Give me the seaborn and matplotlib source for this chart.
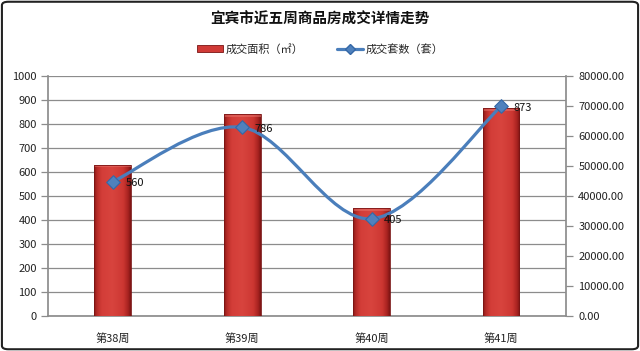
import numpy as np
import pandas as pd
import matplotlib
matplotlib.use('Agg')
import matplotlib.pyplot as plt
import seaborn as sns
from matplotlib.path import Path
from matplotlib.patches import PathPatch, Rectangle, FancyBboxPatch
from matplotlib.lines import Line2D
from matplotlib.colors import LinearSegmentedColormap

# ---- data ----
title = '宜宾市近五周商品房成交详情走势'
weeks = ['第38周', '第39周', '第40周', '第41周']
area = [50300, 67200, 35900, 69200]        # 成交面积（㎡）, right axis
units = [560, 786, 405, 873]               # 成交套数（套）, left axis
left_ticks = list(range(0, 1001, 100))
right_ticks = list(range(0, 80001, 10000))
area_label = '成交面积（㎡）'
units_label = '成交套数（套）'

sns.set_theme(style='white')
plt.rcParams['font.family'] = ['Noto Sans CJK SC', 'DejaVu Sans']

df = pd.DataFrame({'week': weeks, 'area': area, 'units': units})

fig = plt.figure(figsize=(6.4, 3.51), dpi=100)
ax = fig.add_axes([0.075, 0.0997, 0.809, 0.6838])
ax2 = ax.twinx()
ax3 = ax.twinx()

grid_c = '#8c8c8c'
# left axis: grid + ticks
ax.set_ylim(0, 1000)
ax.set_yticks(left_ticks)
ax.set_yticklabels([str(t) for t in left_ticks], fontsize=8, color='#222222')
ax.yaxis.grid(True, color=grid_c, linewidth=0.9)
ax.tick_params(axis='y', which='both', left=True, length=5, width=0.9, color=grid_c, pad=3)
ax.set_xlim(-0.5, 3.5)

# bars on right axis
sns.barplot(data=df, x='week', y='area', ax=ax2, width=0.285, color='#d03a36',
            edgecolor='#7a1414', linewidth=0.6, zorder=2)
ax2.set_ylim(0, 80000)
ax2.set_xlim(-0.5, 3.5)
cmap = LinearSegmentedColormap.from_list('barred', [
    (0.0, '#8a1a18'), (0.07, '#b42a26'), (0.2, '#d33d38'), (0.5, '#d8443e'),
    (0.8, '#cd3732'), (0.93, '#a82320'), (1.0, '#7e1514')])
grad = np.linspace(0, 1, 64).reshape(1, -1)
for p in list(ax2.patches):
    x0, y0 = p.get_x(), p.get_y()
    w, h = p.get_width(), p.get_height()
    im = ax2.imshow(grad, cmap=cmap, extent=[x0, x0 + w, y0, y0 + h],
                    aspect='auto', zorder=2.5, interpolation='bicubic')
    im.set_clip_path(p)
    cap = Rectangle((x0, y0 + h - 800), w, 800, facecolor='#e8766e', edgecolor='none',
                    alpha=0.5, zorder=2.6)
    ax2.add_patch(cap)
    p.set_facecolor('none')
    p.set_zorder(2.7)
ax2.set_ylim(0, 80000)
ax2.set_xlim(-0.5, 3.5)
ax2.set_yticks(right_ticks)
ax2.set_yticklabels(['%.2f' % t for t in right_ticks], fontsize=8, color='#222222')
ax2.tick_params(axis='y', which='both', right=True, length=5, width=0.9, color=grid_c, pad=4)
ax2.set_ylabel('')
ax2.set_xlabel('')

# line on left scale (top layer)
ax3.set_ylim(0, 1000)
ax3.set_xlim(-0.5, 3.5)
xs = np.arange(len(weeks), dtype=float)
ys = np.array(units, dtype=float)
P = np.column_stack([xs, ys])
Pe = np.vstack([P[0], P, P[-1]])
verts = [tuple(P[0])]
codes = [Path.MOVETO]
for i in range(len(P) - 1):
    p0, p1, p2, p3 = Pe[i], Pe[i + 1], Pe[i + 2], Pe[i + 3]
    c1 = p1 + (p2 - p0) / 6.0
    c2 = p2 - (p3 - p1) / 6.0
    verts += [tuple(c1), tuple(c2), tuple(p2)]
    codes += [Path.CURVE4] * 3
ax3.add_patch(PathPatch(Path(verts, codes), facecolor='none', edgecolor='#4a7ebb',
                        linewidth=2.3, capstyle='round', zorder=3))
sns.scatterplot(x=xs, y=ys, ax=ax3, marker='D', s=48, color='#4f81bd',
                edgecolor='#3467a6', linewidth=0.8, zorder=4, legend=False)
for x, v in zip(xs, units):
    ax3.annotate(str(v), (x, v), xytext=(9, -1), textcoords='offset points',
                 ha='left', va='center', fontsize=8, color='#111111', zorder=5)
ax3.set_yticks([])
ax3.set_ylabel('')

# x axis
ax.set_xticks(range(len(weeks)))
ax.set_xticklabels(weeks, fontsize=8, color='#222222')
ax.tick_params(axis='x', bottom=False, pad=6)
ax2.tick_params(axis='x', bottom=False, labelbottom=False)
ax3.tick_params(axis='x', bottom=False, labelbottom=False)
ax.set_xlabel('')
ax.set_ylabel('')

for a in (ax, ax2, ax3):
    for s in a.spines.values():
        s.set_visible(False)
ax.spines['left'].set_visible(True)
ax.spines['left'].set_color(grid_c)
ax.spines['bottom'].set_visible(True)
ax.spines['bottom'].set_color(grid_c)
ax2.spines['right'].set_visible(True)
ax2.spines['right'].set_color(grid_c)

# title & legend
fig.text(0.5, 1 - 19 / 351, title, ha='center', va='center', fontsize=10.5,
         fontweight='bold', color='#111111')
handles = [Rectangle((0, 0), 1, 1, facecolor='#d03a36', edgecolor='#7a1414', linewidth=0.6),
           Line2D([0], [0], color='#4a7ebb', linewidth=2.3, marker='D', markersize=5.5,
                  markerfacecolor='#4f81bd', markeredgecolor='#3467a6')]
fig.legend(handles, [area_label, units_label], loc='center', ncol=2,
           bbox_to_anchor=(0.5, 1 - 49 / 351), frameon=False, fontsize=8,
           handlelength=2.4, handleheight=0.6, columnspacing=3.0, handletextpad=0.2)

# outer border
fig.patches.append(FancyBboxPatch((0.003, 0.005), 0.994, 0.99,
                                  boxstyle='round,pad=0,rounding_size=0.01',
                                  transform=fig.transFigure, facecolor='none',
                                  edgecolor='#222222', linewidth=1.5))

fig.savefig('out.png', dpi=100)
